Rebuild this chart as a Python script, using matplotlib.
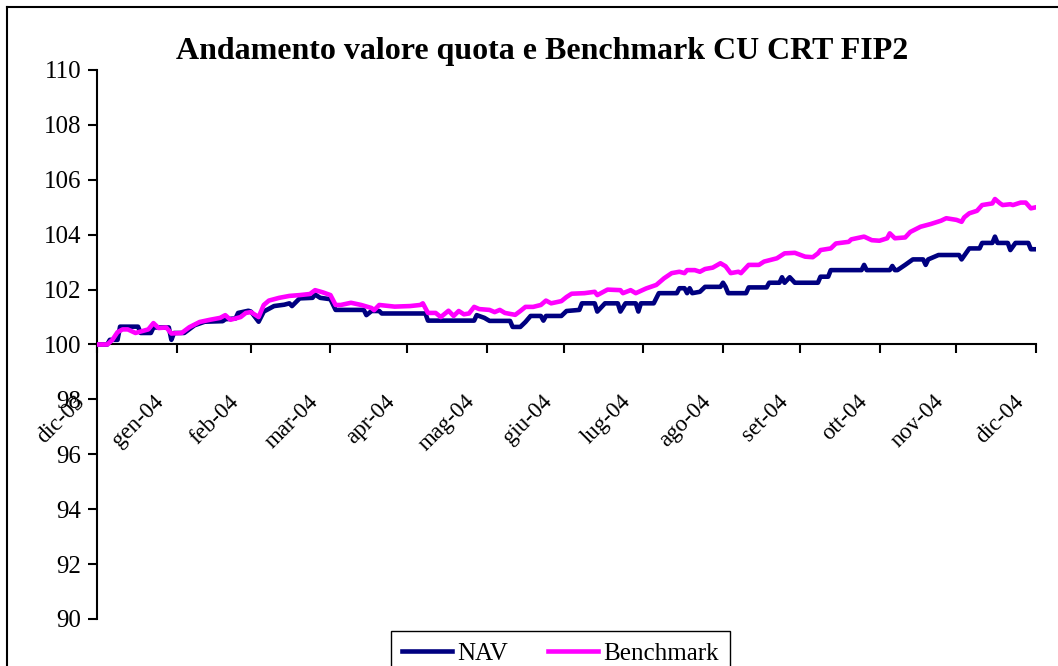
import matplotlib
matplotlib.use("Agg")
import matplotlib.pyplot as plt
from matplotlib.lines import Line2D
from matplotlib.transforms import ScaledTranslation
import pandas as pd

# ---- data (days counted from 31 Dec 2003) ----
start_date = "2003-12-31"

nav_days = [0, 4, 5, 8, 9, 16, 17, 21, 22, 28, 29, 30, 34, 38, 42, 49, 50, 54, 55, 59,
            60, 63, 65, 69, 73, 75, 76, 79, 84, 85, 87, 91, 93, 104, 105, 107, 110, 111,
            128, 129, 147, 148, 151, 153, 161, 162, 165, 167, 169, 173, 174, 175, 181,
            183, 188, 189, 194, 195, 198, 203, 204, 206, 210, 211, 212, 217, 219, 226,
            227, 229, 230, 231, 232, 235, 237, 243, 244, 245, 246, 253, 254, 261, 262,
            266, 267, 268, 270, 272, 281, 282, 285, 286, 298, 299, 300, 309, 310, 311,
            312, 315, 318, 322, 323, 324, 328, 336, 337, 340, 344, 345, 349, 350, 351,
            355, 356, 358, 363, 364, 366]
nav_values = [100.0, 100.0, 100.17, 100.17, 100.65, 100.65, 100.42, 100.42, 100.62, 100.62,
              100.17, 100.42, 100.42, 100.7, 100.83, 100.85, 100.92, 100.95, 101.15, 101.23,
              101.2, 100.83, 101.2, 101.4, 101.45, 101.5, 101.4, 101.68, 101.7, 101.82,
              101.7, 101.65, 101.26, 101.26, 101.07, 101.22, 101.22, 101.13,
              101.13, 100.87, 100.87, 101.07, 100.97, 100.86, 100.86, 100.64, 100.64, 100.82,
              101.04, 101.04, 100.87, 101.04, 101.04,
              101.22, 101.26, 101.5, 101.5, 101.2, 101.5, 101.5, 101.2, 101.5, 101.5, 101.2,
              101.5, 101.5, 101.87, 101.87,
              102.05, 102.05, 101.87, 102.05, 101.87, 101.92, 102.1, 102.1, 102.25, 102.1,
              101.87, 101.87, 102.08, 102.08, 102.25,
              102.25, 102.45, 102.25, 102.45, 102.25, 102.25, 102.47, 102.47, 102.71, 102.71,
              102.9, 102.71, 102.71, 102.86, 102.71,
              102.71, 102.9, 103.1, 103.1, 102.9, 103.1, 103.26, 103.26, 103.1, 103.5, 103.5,
              103.7, 103.7, 103.93, 103.7,
              103.7, 103.44, 103.7, 103.7, 103.47, 103.47]

bench_days = [0, 4, 6, 8, 10, 12, 15, 20, 22, 24, 27, 29, 33, 36, 40, 44, 48, 50, 52, 56,
              58, 60, 63, 65, 67, 71, 75, 79, 83, 85, 88, 91, 93, 95, 99, 103, 107, 108,
              110, 116, 122, 126, 127, 129, 132, 134, 137, 139, 141, 143, 145, 147, 149,
              153, 155, 157, 159, 163, 165, 167, 170, 173, 175, 177, 181, 183, 185, 190,
              194, 195, 199, 204, 205, 208, 210, 214, 218, 221, 224, 227, 229, 230, 233,
              235, 237, 240, 243, 245, 247, 250, 251, 254, 258, 260, 265, 268, 272, 276,
              279, 281, 282, 286, 288, 293, 294, 299, 302, 305, 308, 309, 311, 315, 317,
              321, 325, 329, 331, 335, 337, 338, 340, 343, 345, 349, 350, 352, 353, 356,
              357, 360, 362, 364, 366]
bench_values = [100.0, 100.0, 100.17, 100.45, 100.55, 100.55, 100.42, 100.55, 100.78, 100.6,
                100.62, 100.4, 100.42, 100.63, 100.82, 100.9, 100.97, 101.07, 100.9, 101.0,
                101.15, 101.18, 101.0, 101.44, 101.6, 101.7, 101.77, 101.8, 101.84, 101.98,
                101.9, 101.8, 101.44, 101.44, 101.52, 101.44, 101.33, 101.25,
                101.44, 101.38, 101.4, 101.44, 101.5, 101.15, 101.15, 101.0, 101.23, 101.04,
                101.22, 101.1, 101.13, 101.37, 101.29,
                101.26, 101.18, 101.26, 101.15, 101.08, 101.22, 101.37, 101.37, 101.44, 101.6,
                101.5, 101.58, 101.73, 101.85, 101.87,
                101.92, 101.8, 102.0, 101.98, 101.87, 101.98, 101.87, 102.04, 102.17, 102.41,
                102.6, 102.65, 102.6, 102.71, 102.71,
                102.65, 102.75, 102.8, 102.96, 102.85, 102.6, 102.65, 102.6, 102.9, 102.9,
                103.02, 103.14, 103.32, 103.34, 103.2,
                103.18, 103.32, 103.44, 103.5, 103.68, 103.74, 103.83, 103.93, 103.8, 103.78,
                103.87, 104.05, 103.87, 103.9, 104.1,
                104.29, 104.39, 104.51, 104.6, 104.54, 104.47, 104.63, 104.78, 104.87, 105.08,
                105.14, 105.3, 105.14, 105.08, 105.11,
                105.08, 105.17, 105.17, 104.96, 105.0]

month_labels = ["dic-03", "gen-04", "feb-04", "mar-04", "apr-04", "mag-04", "giu-04",
                "lug-04", "ago-04", "set-04", "ott-04", "nov-04", "dic-04"]
y_ticks = [90, 92, 94, 96, 98, 100, 102, 104, 106, 108, 110]

title = "Andamento valore quota e Benchmark CU CRT FIP2"
series_names = ["NAV", "Benchmark"]
nav_color = "#000080"
bench_color = "#FF00FF"

# ---- build ----
t0 = pd.Timestamp(start_date)
nav_dates = t0 + pd.to_timedelta(nav_days, unit="D")
bench_dates = t0 + pd.to_timedelta(bench_days, unit="D")
tick_dates = pd.date_range(start_date, periods=len(month_labels), freq="ME")

plt.rcParams["font.family"] = ["Liberation Serif", "DejaVu Serif"]

W, H = 1058, 666
fig = plt.figure(figsize=(W / 100, H / 100), dpi=100)
ax = fig.add_axes([97 / W, 1 - 619 / H, 939 / W, 549 / H])

ax.plot(nav_dates, nav_values, color=nav_color, lw=3.3, label=series_names[0],
        solid_joinstyle="round", zorder=3)
ax.plot(bench_dates, bench_values, color=bench_color, lw=3.3, label=series_names[1],
        solid_joinstyle="round", zorder=4)

ax.set_ylim(90, 110)
ax.set_xlim(tick_dates[0], tick_dates[-1])
ax.set_yticks(y_ticks)
ax.set_xticks(tick_dates)
ax.set_xticklabels(month_labels)

for s in ["top", "right"]:
    ax.spines[s].set_visible(False)
ax.spines["bottom"].set_position(("data", 100))
ax.spines["bottom"].set_linewidth(1.5)
ax.spines["left"].set_linewidth(1.5)

ax.tick_params(axis="y", direction="out", length=6.5, width=1.5, pad=5, labelsize=18)
ax.tick_params(axis="x", direction="out", length=6.5, width=1.5, pad=27, labelsize=16.5)

offset = ScaledTranslation(-23 / 100, 0, fig.dpi_scale_trans)
for lab in ax.get_xticklabels():
    lab.set_rotation(45)
    lab.set_ha("right")
    lab.set_va("top")
    lab.set_rotation_mode("anchor")
    lab.set_transform(lab.get_transform() + offset)

fig.text(542 / W, 1 - 51 / H, title, ha="center", va="center",
         fontsize=23, fontweight="bold")

leg = fig.legend(loc="upper center", bbox_to_anchor=(560.5 / W, 1 - 631 / H), ncol=2,
                 fontsize=18, frameon=True, fancybox=False, edgecolor="black",
                 handlelength=2.0, handletextpad=0.2, columnspacing=1.6,
                 borderpad=0.45, borderaxespad=0, framealpha=1)
leg.get_frame().set_linewidth(1.0)
for h in leg.get_lines():
    h.set_linewidth(3.3)

# outer chart border (left and top visible)
fig.add_artist(Line2D([7 / W, 7 / W], [0, 1 - 7 / H], transform=fig.transFigure,
                      color="black", lw=1.5))
fig.add_artist(Line2D([7 / W, 1], [1 - 7 / H, 1 - 7 / H], transform=fig.transFigure,
                      color="black", lw=1.5))

fig.savefig("out.png", dpi=100)
